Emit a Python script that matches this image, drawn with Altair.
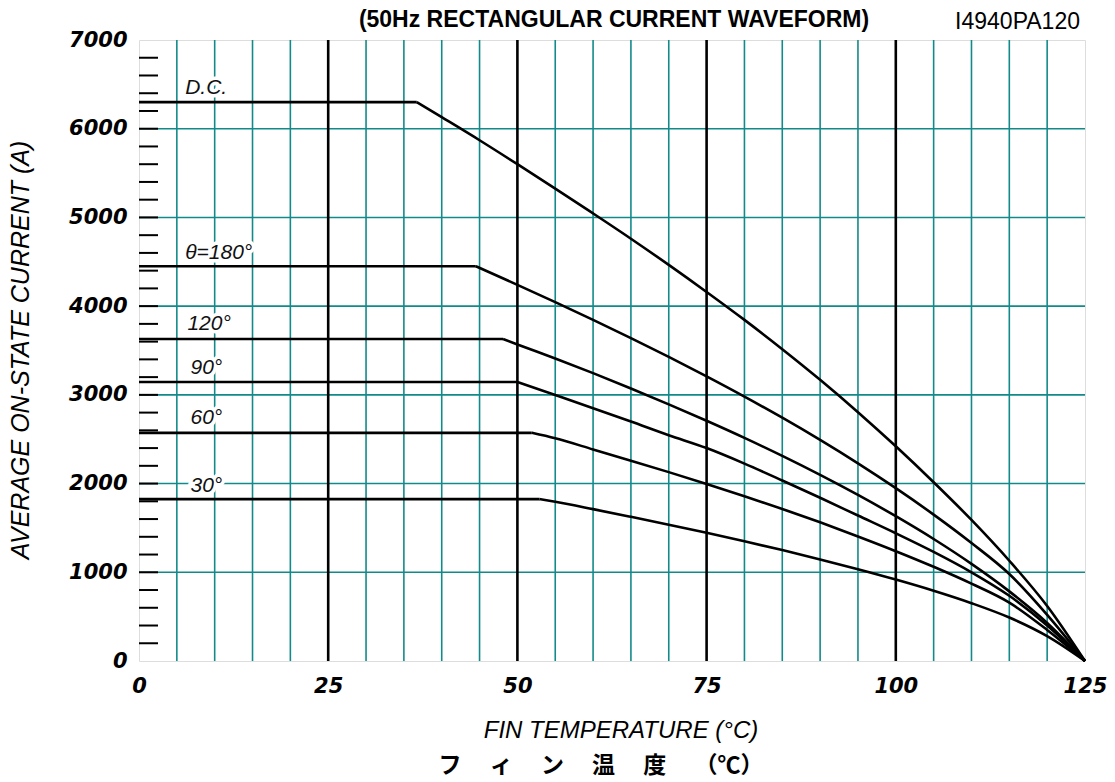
import altair as alt
import pandas as pd

# Allowable average on-state current vs. fin temperature, per conduction angle
series_names = ["D.C.", "180", "120", "90", "60", "30"]

dc_t = [0, 36.7, 40, 45, 50, 55, 60, 65, 70, 75, 80, 85, 90, 95, 100, 105, 110, 115, 120, 125]
dc_a = [6300, 6300, 6130, 5870, 5600, 5325, 5045, 4760, 4465, 4160, 3845, 3515, 3170, 2805, 2420, 2015, 1590, 1130, 620, 0]

a180_t = [0, 44.5, 50, 55, 60, 65, 70, 75, 80, 85, 90, 95, 100, 105, 110, 115, 120, 125]
a180_a = [4450, 4450, 4240, 4045, 3845, 3640, 3428, 3208, 2980, 2742, 2492, 2228, 1948, 1650, 1330, 980, 520, 0]

a120_t = [0, 48.1, 50, 55, 60, 65, 70, 75, 80, 85, 90, 95, 100, 105, 110, 115, 120, 125]
a120_a = [3630, 3630, 3568, 3410, 3245, 3072, 2893, 2708, 2515, 2312, 2098, 1872, 1632, 1375, 1095, 785, 430, 0]

a90_t = [0, 50, 55, 60, 65, 70, 75, 80, 85, 90, 95, 100, 105, 110, 115, 120, 125]
a90_a = [3145, 3145, 2998, 2850, 2699, 2545, 2400, 2225, 2035, 1840, 1640, 1440, 1230, 1000, 735, 400, 0]

a60_t = [0, 51.9, 55, 60, 65, 70, 75, 80, 85, 90, 95, 100, 105, 110, 115, 120, 125]
a60_a = [2572, 2572, 2510, 2385, 2258, 2129, 1996, 1858, 1714, 1563, 1404, 1238, 1062, 872, 658, 350, 0]

a30_t = [0, 52.9, 55, 60, 65, 70, 75, 80, 85, 90, 95, 100, 105, 110, 115, 120, 125]
a30_a = [1825, 1825, 1795, 1712, 1625, 1536, 1445, 1350, 1250, 1145, 1035, 918, 792, 652, 490, 280, 0]

# Curve labels and where they sit
label_text = ["D.C.", "θ=180°", "120°", "90°", "60°", "30°"]
label_t = [6.1, 6.1, 6.4, 6.8, 6.8, 6.8]
label_a = [6460, 4600, 3800, 3303, 2740, 1973]

# Axis ticks and grid
x_ticks = [0, 25, 50, 75, 100, 125]
y_ticks = [0, 1000, 2000, 3000, 4000, 5000, 6000, 7000]
x_minor = [5, 10, 15, 20, 30, 35, 40, 45, 55, 60, 65, 70, 80, 85, 90, 95, 105, 110, 115, 120]
x_major = [25, 50, 75, 100]
y_grid = [1000, 2000, 3000, 4000, 5000, 6000]
y_small = list(range(200, 7000, 200))

# Each curve = a flat plateau (straight) + a derating slope (smooth);
# the slope starts at the plateau's end point so the knee stays sharp.
flat_rows, slope_rows = [], []
for name, ts, amps in zip(series_names,
                          [dc_t, a180_t, a120_t, a90_t, a60_t, a30_t],
                          [dc_a, a180_a, a120_a, a90_a, a60_a, a30_a]):
    flat_rows.append({"series": name, "t": ts[0], "a": amps[0], "i": 0})
    flat_rows.append({"series": name, "t": ts[1], "a": amps[1], "i": 1})
    for i, (t, a) in enumerate(zip(ts[1:], amps[1:])):
        slope_rows.append({"series": name, "t": t, "a": a, "i": i})
flat_df = pd.DataFrame(flat_rows)
slope_df = pd.DataFrame(slope_rows)

W, H = 946, 621
TEAL = "#138a8a"
TICKFONT = "DejaVu Sans"
SANS = "Liberation Sans"

xs = alt.Scale(domain=[0, 125], nice=False, zero=False)
ys = alt.Scale(domain=[0, 7000], nice=False)

x_axis = alt.Axis(values=x_ticks, title=None, ticks=False, tickSize=0, domain=False, grid=False,
                  labelFont=TICKFONT, labelFontWeight="bold", labelFontStyle="italic",
                  labelFontSize=21, labelPadding=14, labelColor="black", labelFlush=False)
y_axis = alt.Axis(values=y_ticks, format="d", title=None, ticks=False, tickSize=0, domain=False,
                  grid=False, labelFont=TICKFONT, labelFontWeight="bold", labelFontStyle="italic",
                  labelFontSize=21, labelPadding=12, labelColor="black", labelFlush=False)

vminor = alt.Chart(pd.DataFrame({"t": x_minor})).mark_rule(color=TEAL, strokeWidth=1.6).encode(
    x=alt.X("t:Q", scale=xs, axis=x_axis))
hgrid = alt.Chart(pd.DataFrame({"a": y_grid})).mark_rule(color=TEAL, strokeWidth=1.6).encode(
    y=alt.Y("a:Q", scale=ys, axis=y_axis))
vmajor = alt.Chart(pd.DataFrame({"t": x_major})).mark_rule(color="black", strokeWidth=2.6).encode(
    x=alt.X("t:Q", scale=xs))
small_ticks = alt.Chart(pd.DataFrame({"a": y_small})).mark_rule(color="black", strokeWidth=2).encode(
    y=alt.Y("a:Q", scale=ys), x=alt.value(0), x2=alt.value(19))

flat_lines = alt.Chart(flat_df).mark_line(color="black", strokeWidth=2.6, interpolate="linear").encode(
    x=alt.X("t:Q", scale=xs), y=alt.Y("a:Q", scale=ys), detail="series:N", order="i:Q")
slope_lines = alt.Chart(slope_df).mark_line(color="black", strokeWidth=2.6, interpolate="monotone").encode(
    x=alt.X("t:Q", scale=xs), y=alt.Y("a:Q", scale=ys), detail="series:N", order="i:Q")

labels_df = pd.DataFrame({"t": label_t, "a": label_a, "txt": label_text})
label_halo = alt.Chart(labels_df).mark_text(
    align="left", baseline="middle", font=SANS, fontStyle="italic", fontSize=21,
    stroke="white", strokeWidth=7, fill="white").encode(
    x=alt.X("t:Q", scale=xs), y=alt.Y("a:Q", scale=ys), text="txt:N")
label_text_layer = alt.Chart(labels_df).mark_text(
    align="left", baseline="middle", font=SANS, fontStyle="italic", fontSize=21, color="#111").encode(
    x=alt.X("t:Q", scale=xs), y=alt.Y("a:Q", scale=ys), text="txt:N")

one = pd.DataFrame({"k": [0]})


def fixed_text(txt, x, y, **kw):
    return alt.Chart(one).mark_text(text=txt, **kw).encode(x=alt.value(x), y=alt.value(y))


top_title = fixed_text("(50Hz RECTANGULAR CURRENT WAVEFORM)", 475, -20, font=SANS, fontWeight="bold",
                       fontSize=23, align="center", baseline="middle", color="black")
code_label = fixed_text("I4940PA120", 941, -18, font=SANS, fontSize=23, align="right",
                        baseline="middle", color="black")
y_title = fixed_text("AVERAGE ON-STATE CURRENT (A)", -118, 310, font=SANS, fontStyle="italic",
                     fontSize=25, angle=270, align="center", baseline="middle", color="black")
x_title = fixed_text("FIN TEMPERATURE (°C)", 482, 691, font=SANS, fontStyle="italic",
                     fontSize=24, align="center", baseline="middle", color="black")
jp_title = fixed_text("フ　 ィ　 ン　 温　 度　 （℃）", 462, 726, font="Noto Sans CJK JP",
                      fontWeight="bold", fontSize=23, align="center", baseline="middle", color="black")

chart = alt.layer(
    vminor, hgrid, vmajor, small_ticks, flat_lines, slope_lines, label_halo, label_text_layer,
    top_title, code_label, y_title, x_title, jp_title,
).properties(
    width=W, height=H,
    padding={"left": 139, "top": 40, "right": 30, "bottom": 121},
    autosize=alt.AutoSizeParams(type="none"),
).configure_view(stroke="black", strokeWidth=3.2).configure(background="white")

chart.save("out.html", embed_options={"renderer": "svg", "actions": False})
